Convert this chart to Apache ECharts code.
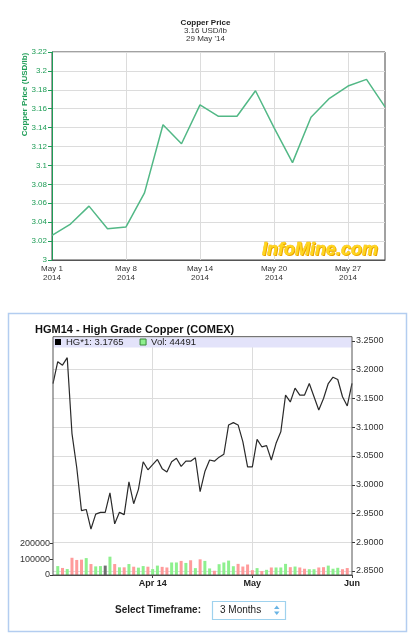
<!DOCTYPE html>
<html><head><meta charset="utf-8">
<script src="https://cdn.jsdelivr.net/npm/echarts@6/dist/echarts.min.js"></script>
<style>html,body{margin:0;padding:0;background:#fff}#c{width:415px;height:641px}</style>
</head><body><div id="c"></div>
<script>
// ---- Top chart (InfoMine) ----
const topDates = ['May 1','May 2','May 6','May 7','May 8','May 9','May 12','May 13','May 14','May 15','May 16','May 19','May 20','May 21','May 22','May 23','May 27','May 28','May 29'];
const topPrice = [3.026,3.038,3.057,3.033,3.035,3.071,3.143,3.123,3.164,3.152,3.152,3.179,3.140,3.103,3.151,3.171,3.184,3.191,3.162];
const topYRange = [3, 3.22, 0.02];

// ---- Bottom chart (HGM14 COMEX) ----
const hgPrice = [3.176,3.214,3.208,3.221,3.089,3.030,2.955,2.957,2.923,2.949,
  2.952,2.952,2.986,2.932,2.952,2.948,3.005,2.967,2.992,3.040,
  3.026,3.035,3.044,3.028,3.022,3.040,3.046,3.032,3.041,3.041,
  3.047,2.988,3.023,3.043,3.041,3.048,3.053,3.104,3.108,3.104,
  3.075,3.031,3.031,3.079,3.066,3.068,3.043,3.072,3.092,3.156,
  3.144,3.168,3.156,3.156,3.176,3.153,3.130,3.150,3.176,3.187,
  3.183,3.153,3.137,3.1765];
const hgVolume = [null,57000,45000,38000,110000,96000,98000,108000,70000,55000,
  57000,60000,117000,70000,49000,49000,70000,53000,47000,57000,
  53000,38000,60000,52000,48000,80000,80000,90000,77000,94000,
  44000,100000,90000,42000,27000,69000,80000,92000,56000,71000,
  54000,67000,31000,44000,25000,33000,48000,48000,48000,71000,
  50000,54000,48000,40000,37000,37000,48000,50000,60000,40000,
  46000,37000,44491,null];
const hgVolDir = ['-','G','R','G','R','R','R','G','R','G','G','N','G','R','G','R','G','R','G','G','R','G',
  'G','R','R','G','G','R','G','R','G','R','G','G','R','G','G','G','G','R','R','R','R',
  'G','R','G','R','G','G','G','R','G','R','R','G','G','R','R','G','G','G','R','R','-'];
const hgTickIndex = [21, 42, 63];
const hgTickLabels = ['Apr 14', 'May', 'Jun'];
const hgYRange = [2.85, 3.25, 0.05];
const volTicks = [0, 100000, 200000];
const hgLast = 3.1765;
const volLast = 44491;

const FF = '"Liberation Sans", Arial, Helvetica, sans-serif';
const GREEN = '#1f9d57';
const dirColor = {G:'#8ef08e', R:'#ff9b9b', N:'#707070'};
const hgDays = hgPrice.map((_, i) => String(i));
const isTick = (i) => hgTickIndex.indexOf(i) >= 0;
const volData = hgVolume.map((v, i) => v == null ? '-' : {value: v, itemStyle: {color: dirColor[hgVolDir[i]]}});

function T(x, y, text, st, extra) {
  return Object.assign({type:'text', x: x, y: y, silent: true,
    style: Object.assign({text: text, fill:'#222', fontSize: 8, fontFamily: FF, align:'center', verticalAlign:'middle'}, st || {})}, extra || {});
}

const chart = echarts.init(document.getElementById('c'), null, {renderer:'canvas'});
chart.setOption({
  animation: false,
  backgroundColor: '#fff',
  textStyle: {fontFamily: FF},
  grid: [
    {left: 52, top: 52, width: 333, height: 208, show: true, borderColor: '#444', borderWidth: 1, backgroundColor: 'transparent'},
    {left: 53, top: 341, width: 299, height: 230},
    {left: 53, top: 528, width: 299, height: 47}
  ],
  legend: {
    left: 55, top: 337, padding: 0, itemWidth: 6, itemHeight: 6, itemGap: 16, selectedMode: false,
    textStyle: {fontSize: 9.5, color: '#222', fontFamily: FF},
    formatter: (n) => n === 'HG*1' ? 'HG*1: ' + hgLast.toFixed(4) : 'Vol: ' + volLast,
    data: [
      {name: 'HG*1', icon: 'rect', itemStyle: {color: '#000'}},
      {name: 'Vol', icon: 'rect', itemStyle: {color: '#8ef08e', borderColor: '#3a8a3a', borderWidth: 1}}
    ]
  },
  xAxis: [
    {gridIndex: 0, type: 'category', data: topDates, boundaryGap: false,
      axisLine: {lineStyle: {color: '#555'}}, axisTick: {show: false},
      axisLabel: {interval: 3, formatter: (v) => v + '\n2014', fontSize: 8, color: '#333', lineHeight: 9, margin: 4, fontFamily: FF},
      splitLine: {show: true, interval: 3, lineStyle: {color: '#dcdcdc'}}},
    {gridIndex: 1, type: 'category', data: hgDays, boundaryGap: false,
      axisLine: {show: false}, axisTick: {show: false}, axisLabel: {show: false},
      splitLine: {show: true, interval: (i) => isTick(i) && i < 63, lineStyle: {color: '#dcdcdc'}}},
    {gridIndex: 2, type: 'category', data: hgDays, boundaryGap: false,
      axisLine: {lineStyle: {color: '#444'}},
      axisTick: {show: true, interval: (i) => isTick(i), length: 3, lineStyle: {color: '#444'}},
      axisLabel: {interval: (i) => isTick(i), formatter: (v, i) => hgTickLabels[hgTickIndex.indexOf(i)] || '',
        fontSize: 9, fontWeight: 'bold', color: '#222', margin: 4, fontFamily: FF},
      splitLine: {show: false}}
  ],
  yAxis: [
    {gridIndex: 0, type: 'value', min: topYRange[0], max: topYRange[1], interval: topYRange[2],
      axisLine: {show: true, lineStyle: {color: GREEN}},
      axisTick: {show: true, length: 4, lineStyle: {color: GREEN}},
      axisLabel: {fontSize: 8, color: GREEN, margin: 5, fontFamily: FF, formatter: (v) => String(+v.toFixed(2))},
      splitLine: {lineStyle: {color: '#dcdcdc'}}},
    {gridIndex: 1, type: 'value', position: 'right', min: hgYRange[0], max: hgYRange[1], interval: hgYRange[2],
      axisLine: {show: false},
      axisTick: {show: true, length: 3, lineStyle: {color: '#333'}},
      axisLabel: {fontSize: 9, color: '#333', margin: 4, fontFamily: FF, formatter: (v) => v.toFixed(4)},
      splitLine: {lineStyle: {color: '#dcdcdc'}}},
    {gridIndex: 2, type: 'value', min: 0, max: 300000, interval: 100000,
      axisLine: {show: false},
      axisTick: {show: true, length: 3, customValues: volTicks, lineStyle: {color: '#333'}},
      axisLabel: {fontSize: 9, color: '#333', margin: 3, fontFamily: FF, customValues: volTicks, formatter: (v) => String(v)},
      splitLine: {show: false}}
  ],
  series: [
    {name: 'Copper Price', type: 'line', xAxisIndex: 0, yAxisIndex: 0, data: topPrice, symbol: 'none',
      lineStyle: {color: '#52b886', width: 1.5}, itemStyle: {color: '#52b886'}, silent: true},
    {name: 'HG*1', type: 'line', xAxisIndex: 1, yAxisIndex: 1, data: hgPrice, symbol: 'none',
      lineStyle: {color: '#2a2a2a', width: 1.2}, itemStyle: {color: '#000'}, silent: true,
      markLine: {silent: true, symbol: ['none', 'none'], lineStyle: {opacity: 0, color: 'transparent'},
        label: {show: true, position: 'end', distance: 4, formatter: () => hgLast.toFixed(4), color: '#fff',
          backgroundColor: '#000', fontSize: 9, fontFamily: FF, padding: [1, 1, 0, 1]},
        data: [{yAxis: hgLast}]}},
    {name: 'Vol', type: 'bar', xAxisIndex: 2, yAxisIndex: 2, data: volData, barWidth: 3, silent: true}
  ],
  graphic: [
    // top chart titles
    T(205.5, 22.5, 'Copper Price', {fontWeight: 'bold', fill: '#222'}),
    T(205.5, 30.5, topPrice[topPrice.length - 1].toFixed(2) + ' USD/lb', {fill: '#333'}),
    T(205.5, 39, "29 May '14", {fill: '#333'}),
    T(25, 94.5, 'Copper Price (USD/lb)', {fontWeight: 'bold', fill: GREEN}, {rotation: Math.PI / 2}),
    T(321, 251, 'InfoMine.com', {fontSize: 18, fontWeight: 'bold', fontStyle: 'italic', fill: '#e8a200'}, {z: 9}),
    T(320, 250, 'InfoMine.com', {fontSize: 18, fontWeight: 'bold', fontStyle: 'italic', fill: '#ffd61e',
      stroke: '#f0b000', lineWidth: 0.5}, {z: 10}),
    // bottom panel
    {type: 'rect', silent: true, z: 0, shape: {x: 8.5, y: 313.5, width: 398, height: 318}, style: {fill: 'none', stroke: '#b3cdf0', lineWidth: 1.5}},
    T(35, 330, 'HGM14 - High Grade Copper (COMEX)', {fontSize: 11, fontWeight: 'bold', fill: '#111', align: 'left'}),
    {type: 'rect', silent: true, z: 1, shape: {x: 53.5, y: 337.5, width: 298, height: 10}, style: {fill: '#e3e3fa'}},
    {type: 'rect', silent: true, z: 5, shape: {x: 53, y: 336.7, width: 299, height: 238.3}, style: {fill: 'none', stroke: '#555', lineWidth: 1}},
    T(115, 610.5, 'Select Timeframe:', {fontSize: 10, fontWeight: 'bold', fill: '#222', align: 'left'}),
    {type: 'rect', silent: true, z: 1, shape: {x: 212.5, y: 601.5, width: 73, height: 18}, style: {fill: '#fff', stroke: '#9fd2ee', lineWidth: 1.2}},
    T(220, 610.5, '3 Months', {fontSize: 10, fill: '#222', align: 'left'}, {z: 2}),
    {type: 'polygon', silent: true, z: 2, shape: {points: [[274, 609], [279.5, 609], [276.75, 605.5]]}, style: {fill: '#6ab4e4'}},
    {type: 'polygon', silent: true, z: 2, shape: {points: [[274, 611.5], [279.5, 611.5], [276.75, 615]]}, style: {fill: '#6ab4e4'}}
  ]
});
</script></body></html>
